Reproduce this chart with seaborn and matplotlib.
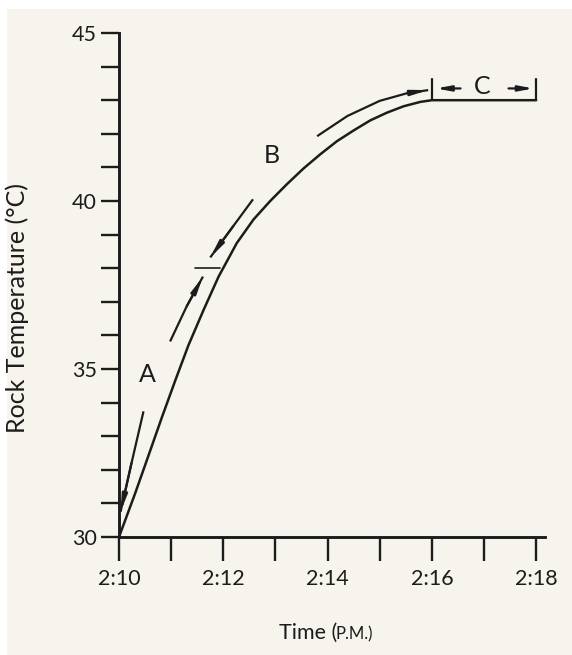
import matplotlib
matplotlib.use("Agg")
import matplotlib.pyplot as plt
from matplotlib.patches import Rectangle
import seaborn as sns
import pandas as pd

# ---- data (minutes after 2:10 P.M., rock temperature in °C) ----
minutes = [0.00, 0.31, 0.56, 0.82, 1.07, 1.33, 1.62, 1.91, 2.26, 2.58, 2.90, 3.22, 3.54,
           3.86, 4.18, 4.50, 4.82, 5.14, 5.46, 5.78, 6.00, 8.00]
temps = [30.0, 31.3, 32.4, 33.55, 34.62, 35.7, 36.75, 37.75, 38.75, 39.45, 40.0, 40.5, 40.97,
         41.39, 41.78, 42.1, 42.4, 42.63, 42.82, 42.95, 43.0, 43.0]

x_tick_vals = [0, 2, 4, 6, 8]
x_tick_labels = ["2:10", "2:12", "2:14", "2:16", "2:18"]
y_tick_vals = [30, 35, 40, 45]

# annotation guide paths (data coords)
a_low_x = [0.47, 0.24, 0.03]
a_low_y = [33.74, 32.2, 30.75]
a_up_x = [0.98, 1.30, 1.61]
a_up_y = [35.82, 36.87, 37.75]
b_low_x = [2.57, 2.19, 1.75]
b_low_y = [40.05, 39.25, 38.32]
b_up_x = [3.80, 4.38, 5.00, 5.53, 5.93]
b_up_y = [41.93, 42.53, 42.98, 43.21, 43.30]
ab_mark_x = [1.46, 1.94]
ab_mark_y = [38.0, 38.0]

sns.set_theme(style="white")
plt.rcParams["font.family"] = ["Lato", "DejaVu Sans"]

INK = "#1c1c1c"
W, H = 572, 655
fig = plt.figure(figsize=(W / 100, H / 100), dpi=100)
fig.patch.set_facecolor("white")
fig.patches.append(Rectangle((7 / W, 0), 1 - 7 / W, 1 - 9 / H, transform=fig.transFigure,
                             facecolor="#f6f4ec", edgecolor="none", zorder=-10))

xmax = 8.17
ax = fig.add_axes([119 / W, (H - 537) / H, 426 / W, 504 / H])
ax.set_facecolor("none")

df = pd.DataFrame({"minutes": minutes, "temp": temps})
sns.lineplot(data=df, x="minutes", y="temp", ax=ax, estimator=None, color=INK, lw=1.8)

lw_a = 1.6
def guide(xs, ys, head=True):
    ax.plot(xs, ys, color=INK, lw=lw_a, solid_capstyle="butt")
    if head:
        ax.annotate("", xy=(xs[-1], ys[-1]), xytext=(xs[-2], ys[-2]),
                    arrowprops=dict(arrowstyle="-|>,head_length=0.8,head_width=0.13",
                                    color=INK, lw=lw_a, shrinkA=0, shrinkB=0))

guide(a_low_x, a_low_y)
guide(a_up_x, a_up_y)
guide(b_low_x, b_low_y)
guide(b_up_x, b_up_y)
ax.plot(ab_mark_x, ab_mark_y, color=INK, lw=1.2)

# C bracket
ax.plot([6, 6], [43.0, 43.63], color=INK, lw=lw_a)
ax.plot([8, 8], [43.0, 43.63], color=INK, lw=lw_a)
for x0, x1 in [(6.55, 6.08), (7.47, 7.95)]:
    ax.annotate("", xy=(x1, 43.35), xytext=(x0, 43.35),
                arrowprops=dict(arrowstyle="-|>,head_length=0.7,head_width=0.13",
                                color=INK, lw=lw_a, shrinkA=0, shrinkB=0))

lab_kw = dict(fontsize=18, color=INK, ha="center", va="center")
ax.text(0.54, 34.83, "A", **lab_kw)
ax.text(2.94, 41.35, "B", **lab_kw)
ax.text(6.97, 43.42, "C", **lab_kw)

ax.set_xlim(0, xmax)
ax.set_ylim(30, 45)
sns.despine(ax=ax)
for s in ["left", "bottom"]:
    ax.spines[s].set_linewidth(2.1)
    ax.spines[s].set_color(INK)
ax.spines["left"].set_bounds(30, 45)

ax.set_xticks(x_tick_vals)
ax.set_xticklabels(x_tick_labels)
ax.set_xticks([1, 3, 5, 7], minor=True)
ax.set_yticks(y_tick_vals)
ax.set_yticks([y for y in range(30, 46) if y not in y_tick_vals], minor=True)
ax.tick_params(axis="x", which="both", direction="out", length=17, width=1.7,
               color=INK, pad=6, labelsize=15.5, labelcolor=INK, bottom=True)
ax.tick_params(axis="y", which="both", direction="out", length=13, width=1.7,
               color=INK, pad=3, labelsize=15.5, labelcolor=INK, left=True)
ax.grid(False)

ax.set_xlabel("")
ax.set_ylabel("Rock Temperature (°C)", fontsize=18, color=INK)
ax.yaxis.set_label_coords(-0.211, 0.454)

t = ax.text(0.445, -0.19, "Time (", transform=ax.transAxes, fontsize=15.5,
            color=INK, ha="center", va="center")
ax.annotate("P.M.)", xy=(1, 0), xycoords=t, xytext=(-1.5, 0), textcoords="offset points",
            fontsize=12, color=INK, ha="left", va="bottom")

fig.savefig("out.png", dpi=100, facecolor=fig.get_facecolor())
